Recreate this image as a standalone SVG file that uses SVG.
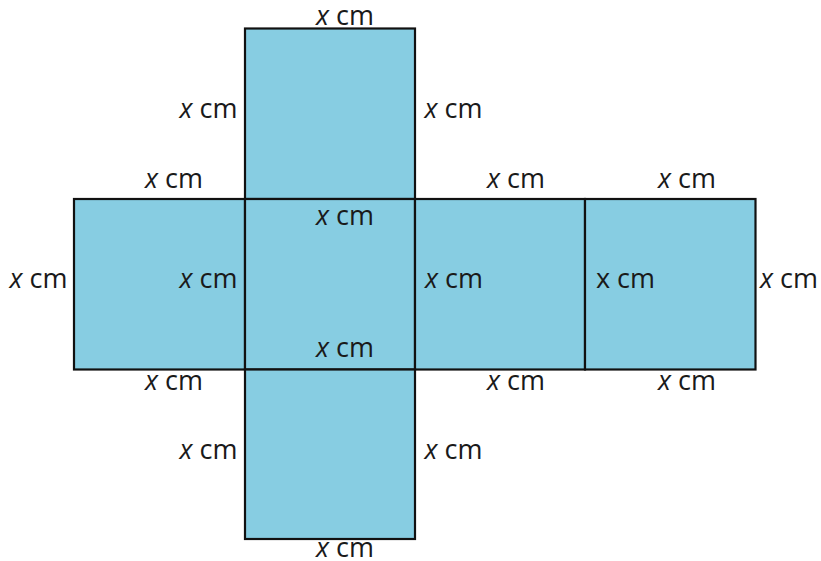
<svg xmlns="http://www.w3.org/2000/svg" width="821" height="561" viewBox="0 0 821 561">
<style>
.face{fill:#87CDE2;stroke:#111;stroke-width:2.2}
text{font-family:"Open Sans","Noto Sans","Liberation Sans",sans-serif;font-size:27px;fill:#1a1a1a;text-anchor:middle}
.i{font-style:italic}
</style>
<rect width="821" height="561" fill="#fff"/>
<g id="face-top"><rect class="face" x="245" y="28.5" width="170" height="170.5"/></g>
<g id="face-left"><rect class="face" x="74" y="199" width="171" height="170.5"/></g>
<g id="face-center"><rect class="face" x="245" y="199" width="170" height="170.5"/></g>
<g id="face-right"><rect class="face" x="415" y="199" width="170" height="170.5"/></g>
<g id="face-back"><rect class="face" x="585" y="199" width="170.5" height="170.5"/></g>
<g id="face-bottom"><rect class="face" x="245" y="369.5" width="170" height="169.5"/></g>
<g id="connectors"></g>
<g id="labels">
<text x="345" y="25"><tspan class="i">x</tspan> cm</text>
<text x="208.5" y="118"><tspan class="i">x</tspan> cm</text>
<text x="453.5" y="118"><tspan class="i">x</tspan> cm</text>
<text x="174" y="188"><tspan class="i">x</tspan> cm</text>
<text x="516" y="188"><tspan class="i">x</tspan> cm</text>
<text x="687" y="188"><tspan class="i">x</tspan> cm</text>
<text x="345" y="225"><tspan class="i">x</tspan> cm</text>
<text x="38.5" y="288"><tspan class="i">x</tspan> cm</text>
<text x="208.5" y="288"><tspan class="i">x</tspan> cm</text>
<text x="454" y="288"><tspan class="i">x</tspan> cm</text>
<text x="625.5" y="288">x cm</text>
<text x="789" y="288"><tspan class="i">x</tspan> cm</text>
<text x="345" y="357"><tspan class="i">x</tspan> cm</text>
<text x="174" y="390"><tspan class="i">x</tspan> cm</text>
<text x="516" y="390"><tspan class="i">x</tspan> cm</text>
<text x="687" y="390"><tspan class="i">x</tspan> cm</text>
<text x="208.5" y="459"><tspan class="i">x</tspan> cm</text>
<text x="453.5" y="459"><tspan class="i">x</tspan> cm</text>
<text x="345" y="557"><tspan class="i">x</tspan> cm</text>
</g>
</svg>
